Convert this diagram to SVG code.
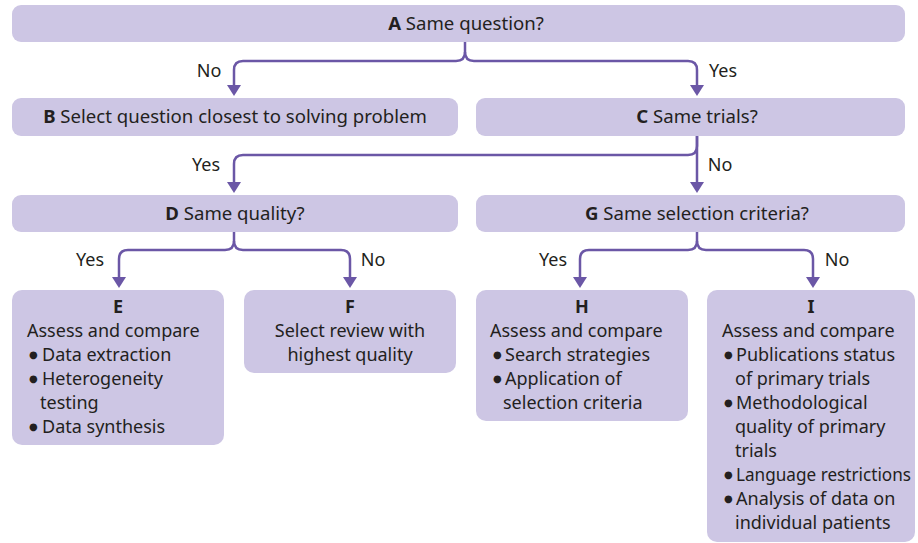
<svg xmlns="http://www.w3.org/2000/svg" width="918" height="543" viewBox="0 0 918 543">
<style>
.box{fill:#cdc6e4;}
.t{font-family:"Noto Sans","Open Sans",sans-serif;font-size:18px;fill:#231f20;}
.h{font-size:18.6px;}
.c{text-anchor:middle;}
.b{font-weight:bold;}
.dot{font-family:"DejaVu Sans",sans-serif;font-size:10px;fill:#231f20;}
.lbl{font-family:"Noto Sans","Open Sans",sans-serif;font-size:18px;fill:#231f20;text-anchor:middle;}
.con{fill:none;stroke:#6b57a6;stroke-width:2.5;marker-end:url(#ah);}
</style>
<defs>
<marker id="ah" markerUnits="userSpaceOnUse" markerWidth="12" markerHeight="14" viewBox="0 0 12 14" refX="3" refY="7" orient="auto">
<path d="M0,0 L11,7 L0,14 Z" fill="#6b57a6"/>
</marker>
</defs>
<g id="connectors">
<path class="con" d="M465,42 V52 Q465,61 456,61 H243 Q234,61 234,70 V88"/>
<path class="con" d="M465,52 Q465,61 474,61 H688 Q697,61 697,70 V88"/>
<path class="con" d="M697,136 V146 Q697,155 688,155 H243 Q234,155 234,164 V185"/>
<path class="con" d="M697,136 V185"/>
<path class="con" d="M234,232 V241 Q234,250 225,250 H128 Q119,250 119,259 V280"/>
<path class="con" d="M234,241 Q234,250 243,250 H341 Q350,250 350,259 V280"/>
<path class="con" d="M697,232 V241 Q697,250 688,250 H589 Q580,250 580,259 V280"/>
<path class="con" d="M697,241 Q697,250 706,250 H804 Q813,250 813,259 V280"/>
<text class="lbl" x="209" y="77">No</text>
<text class="lbl" x="723" y="77">Yes</text>
<text class="lbl" x="206" y="171">Yes</text>
<text class="lbl" x="720" y="171">No</text>
<text class="lbl" x="90" y="266">Yes</text>
<text class="lbl" x="373" y="266">No</text>
<text class="lbl" x="553" y="266">Yes</text>
<text class="lbl" x="837" y="266">No</text>
</g>
<g id="A">
<rect class="box" x="12" y="5" width="893" height="37" rx="9"/>
<text class="t h c" x="466" y="30"><tspan class="b">A</tspan> Same question?</text>
</g>
<g id="B">
<rect class="box" x="12" y="98" width="446" height="38" rx="9"/>
<text class="t h c" x="235" y="123"><tspan class="b">B</tspan> Select question closest to solving problem</text>
</g>
<g id="C">
<rect class="box" x="476" y="98" width="429" height="38" rx="9"/>
<text class="t h c" x="697" y="123"><tspan class="b">C</tspan> Same trials?</text>
</g>
<g id="D">
<rect class="box" x="12" y="195" width="446" height="37" rx="9"/>
<text class="t h c" x="235" y="220"><tspan class="b">D</tspan> Same quality?</text>
</g>
<g id="G">
<rect class="box" x="476" y="195" width="429" height="37" rx="9"/>
<text class="t h c" x="697" y="220"><tspan class="b">G</tspan> Same selection criteria?</text>
</g>
<g id="E">
<rect class="box" x="12" y="290" width="212" height="155" rx="10"/>
<text class="t c b" x="118" y="313">E</text>
<text class="t" x="27" y="337">Assess and compare</text>
<text class="dot" x="29" y="358">●</text><text class="t" x="42" y="361">Data extraction</text>
<text class="dot" x="29" y="382">●</text><text class="t" x="42" y="385">Heterogeneity</text>
<text class="t" x="40" y="409">testing</text>
<text class="dot" x="29" y="430">●</text><text class="t" x="42" y="433">Data synthesis</text>
</g>
<g id="F">
<rect class="box" x="244" y="290" width="212" height="83" rx="10"/>
<text class="t c b" x="350" y="313">F</text>
<text class="t c" x="350" y="337">Select review with</text>
<text class="t c" x="350" y="361">highest quality</text>
</g>
<g id="H">
<rect class="box" x="476" y="290" width="212" height="131" rx="10"/>
<text class="t c b" x="582" y="313">H</text>
<text class="t" x="490" y="337">Assess and compare</text>
<text class="dot" x="493" y="358">●</text><text class="t" x="505" y="361">Search strategies</text>
<text class="dot" x="493" y="382">●</text><text class="t" x="505" y="385">Application of</text>
<text class="t" x="503" y="409">selection criteria</text>
</g>
<g id="I">
<rect class="box" x="707" y="290" width="208" height="252" rx="10"/>
<text class="t c b" x="811" y="313">I</text>
<text class="t" x="722" y="337">Assess and compare</text>
<text class="dot" x="724" y="358">●</text><text class="t" x="736" y="361">Publications status</text>
<text class="t" x="735" y="385">of primary trials</text>
<text class="dot" x="724" y="406">●</text><text class="t" x="736" y="409">Methodological</text>
<text class="t" x="735" y="433">quality of primary</text>
<text class="t" x="735" y="457">trials</text>
<text class="dot" x="724" y="478">●</text><text class="t" x="736" y="481" textLength="175" lengthAdjust="spacingAndGlyphs">Language restrictions</text>
<text class="dot" x="724" y="502">●</text><text class="t" x="736" y="505">Analysis of data on</text>
<text class="t" x="735" y="529">individual patients</text>
</g>
</svg>
